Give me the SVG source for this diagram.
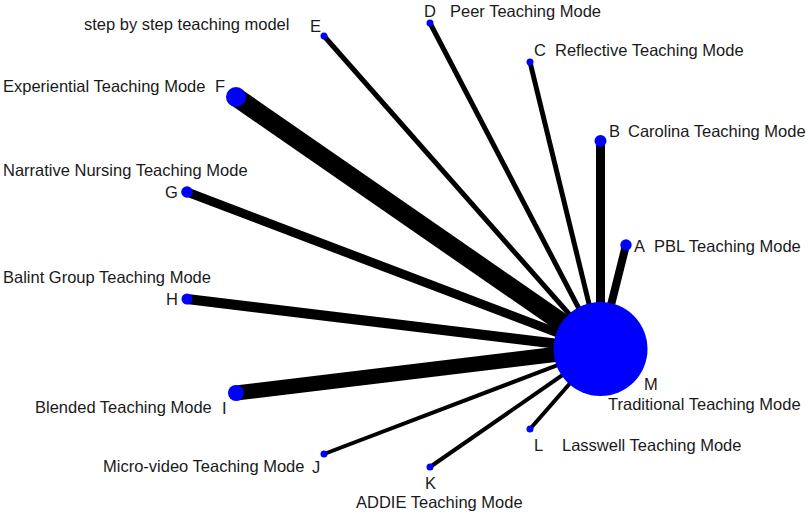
<svg xmlns="http://www.w3.org/2000/svg" width="809" height="514" viewBox="0 0 809 514">
<style>
.e{stroke:#000;stroke-linecap:butt;fill:none}
.n{fill:#0000FF}
text{font-family:"Liberation Sans",Arial,sans-serif;font-size:16.5px;fill:#1a1a1a}
</style>
<rect width="809" height="514" fill="#fff"/>
<g id="connectors">
<line class="e" x1="236" y1="97" x2="600" y2="349" stroke-width="19"/>
<line class="e" x1="236" y1="393" x2="600" y2="349" stroke-width="15"/>
<line class="e" x1="324" y1="36" x2="600" y2="349" stroke-width="5"/>
<line class="e" x1="430" y1="23" x2="600" y2="349" stroke-width="5"/>
<line class="e" x1="530" y1="62" x2="600" y2="349" stroke-width="5"/>
<line class="e" x1="600.5" y1="141" x2="600.5" y2="349" stroke-width="9"/>
<line class="e" x1="626" y1="245" x2="600" y2="349" stroke-width="8"/>
<line class="e" x1="187" y1="192" x2="600" y2="349" stroke-width="9"/>
<line class="e" x1="187" y1="299" x2="600" y2="349" stroke-width="10"/>
<line class="e" x1="324" y1="454" x2="600" y2="349" stroke-width="4"/>
<line class="e" x1="430" y1="467" x2="600" y2="349" stroke-width="4"/>
<line class="e" x1="530" y1="429" x2="600" y2="349" stroke-width="4"/>
</g>
<g id="node-M"><circle class="n" cx="600.5" cy="349" r="47"/><text x="644" y="390">M</text><text x="608" y="410">Traditional Teaching Mode</text></g>
<g id="node-A"><circle class="n" cx="626" cy="245" r="5.7"/><text x="634" y="252">A</text><text x="654" y="252">PBL Teaching Mode</text></g>
<g id="node-B"><circle class="n" cx="600.5" cy="141" r="6"/><text x="609" y="137">B</text><text x="628" y="137">Carolina Teaching Mode</text></g>
<g id="node-C"><circle class="n" cx="530" cy="62" r="3.5"/><text x="534" y="56">C</text><text x="555" y="56">Reflective Teaching Mode</text></g>
<g id="node-D"><circle class="n" cx="430" cy="23" r="3.5"/><text x="424" y="17">D</text><text x="450" y="17">Peer Teaching Mode</text></g>
<g id="node-E"><circle class="n" cx="324" cy="36" r="3.5"/><text x="310" y="32">E</text><text x="84" y="30">step by step teaching model</text></g>
<g id="node-F"><circle class="n" cx="236" cy="97" r="10"/><text x="215" y="92">F</text><text x="3" y="92">Experiential Teaching Mode</text></g>
<g id="node-G"><circle class="n" cx="187" cy="192" r="5.8"/><text x="165" y="198">G</text><text x="3" y="176">Narrative Nursing Teaching Mode</text></g>
<g id="node-H"><circle class="n" cx="187" cy="299" r="5.5"/><text x="166" y="305">H</text><text x="3" y="283">Balint Group Teaching Mode</text></g>
<g id="node-I"><circle class="n" cx="236" cy="393" r="8"/><text x="222" y="414">I</text><text x="35" y="413">Blended Teaching Mode</text></g>
<g id="node-J"><circle class="n" cx="324" cy="454" r="3.5"/><text x="312" y="473">J</text><text x="103" y="472">Micro-video Teaching Mode</text></g>
<g id="node-K"><circle class="n" cx="430" cy="467" r="3.5"/><text x="425" y="489">K</text><text x="356" y="508">ADDIE Teaching Mode</text></g>
<g id="node-L"><circle class="n" cx="530" cy="429" r="3.5"/><text x="534" y="451">L</text><text x="562" y="451">Lasswell Teaching Mode</text></g>
</svg>
